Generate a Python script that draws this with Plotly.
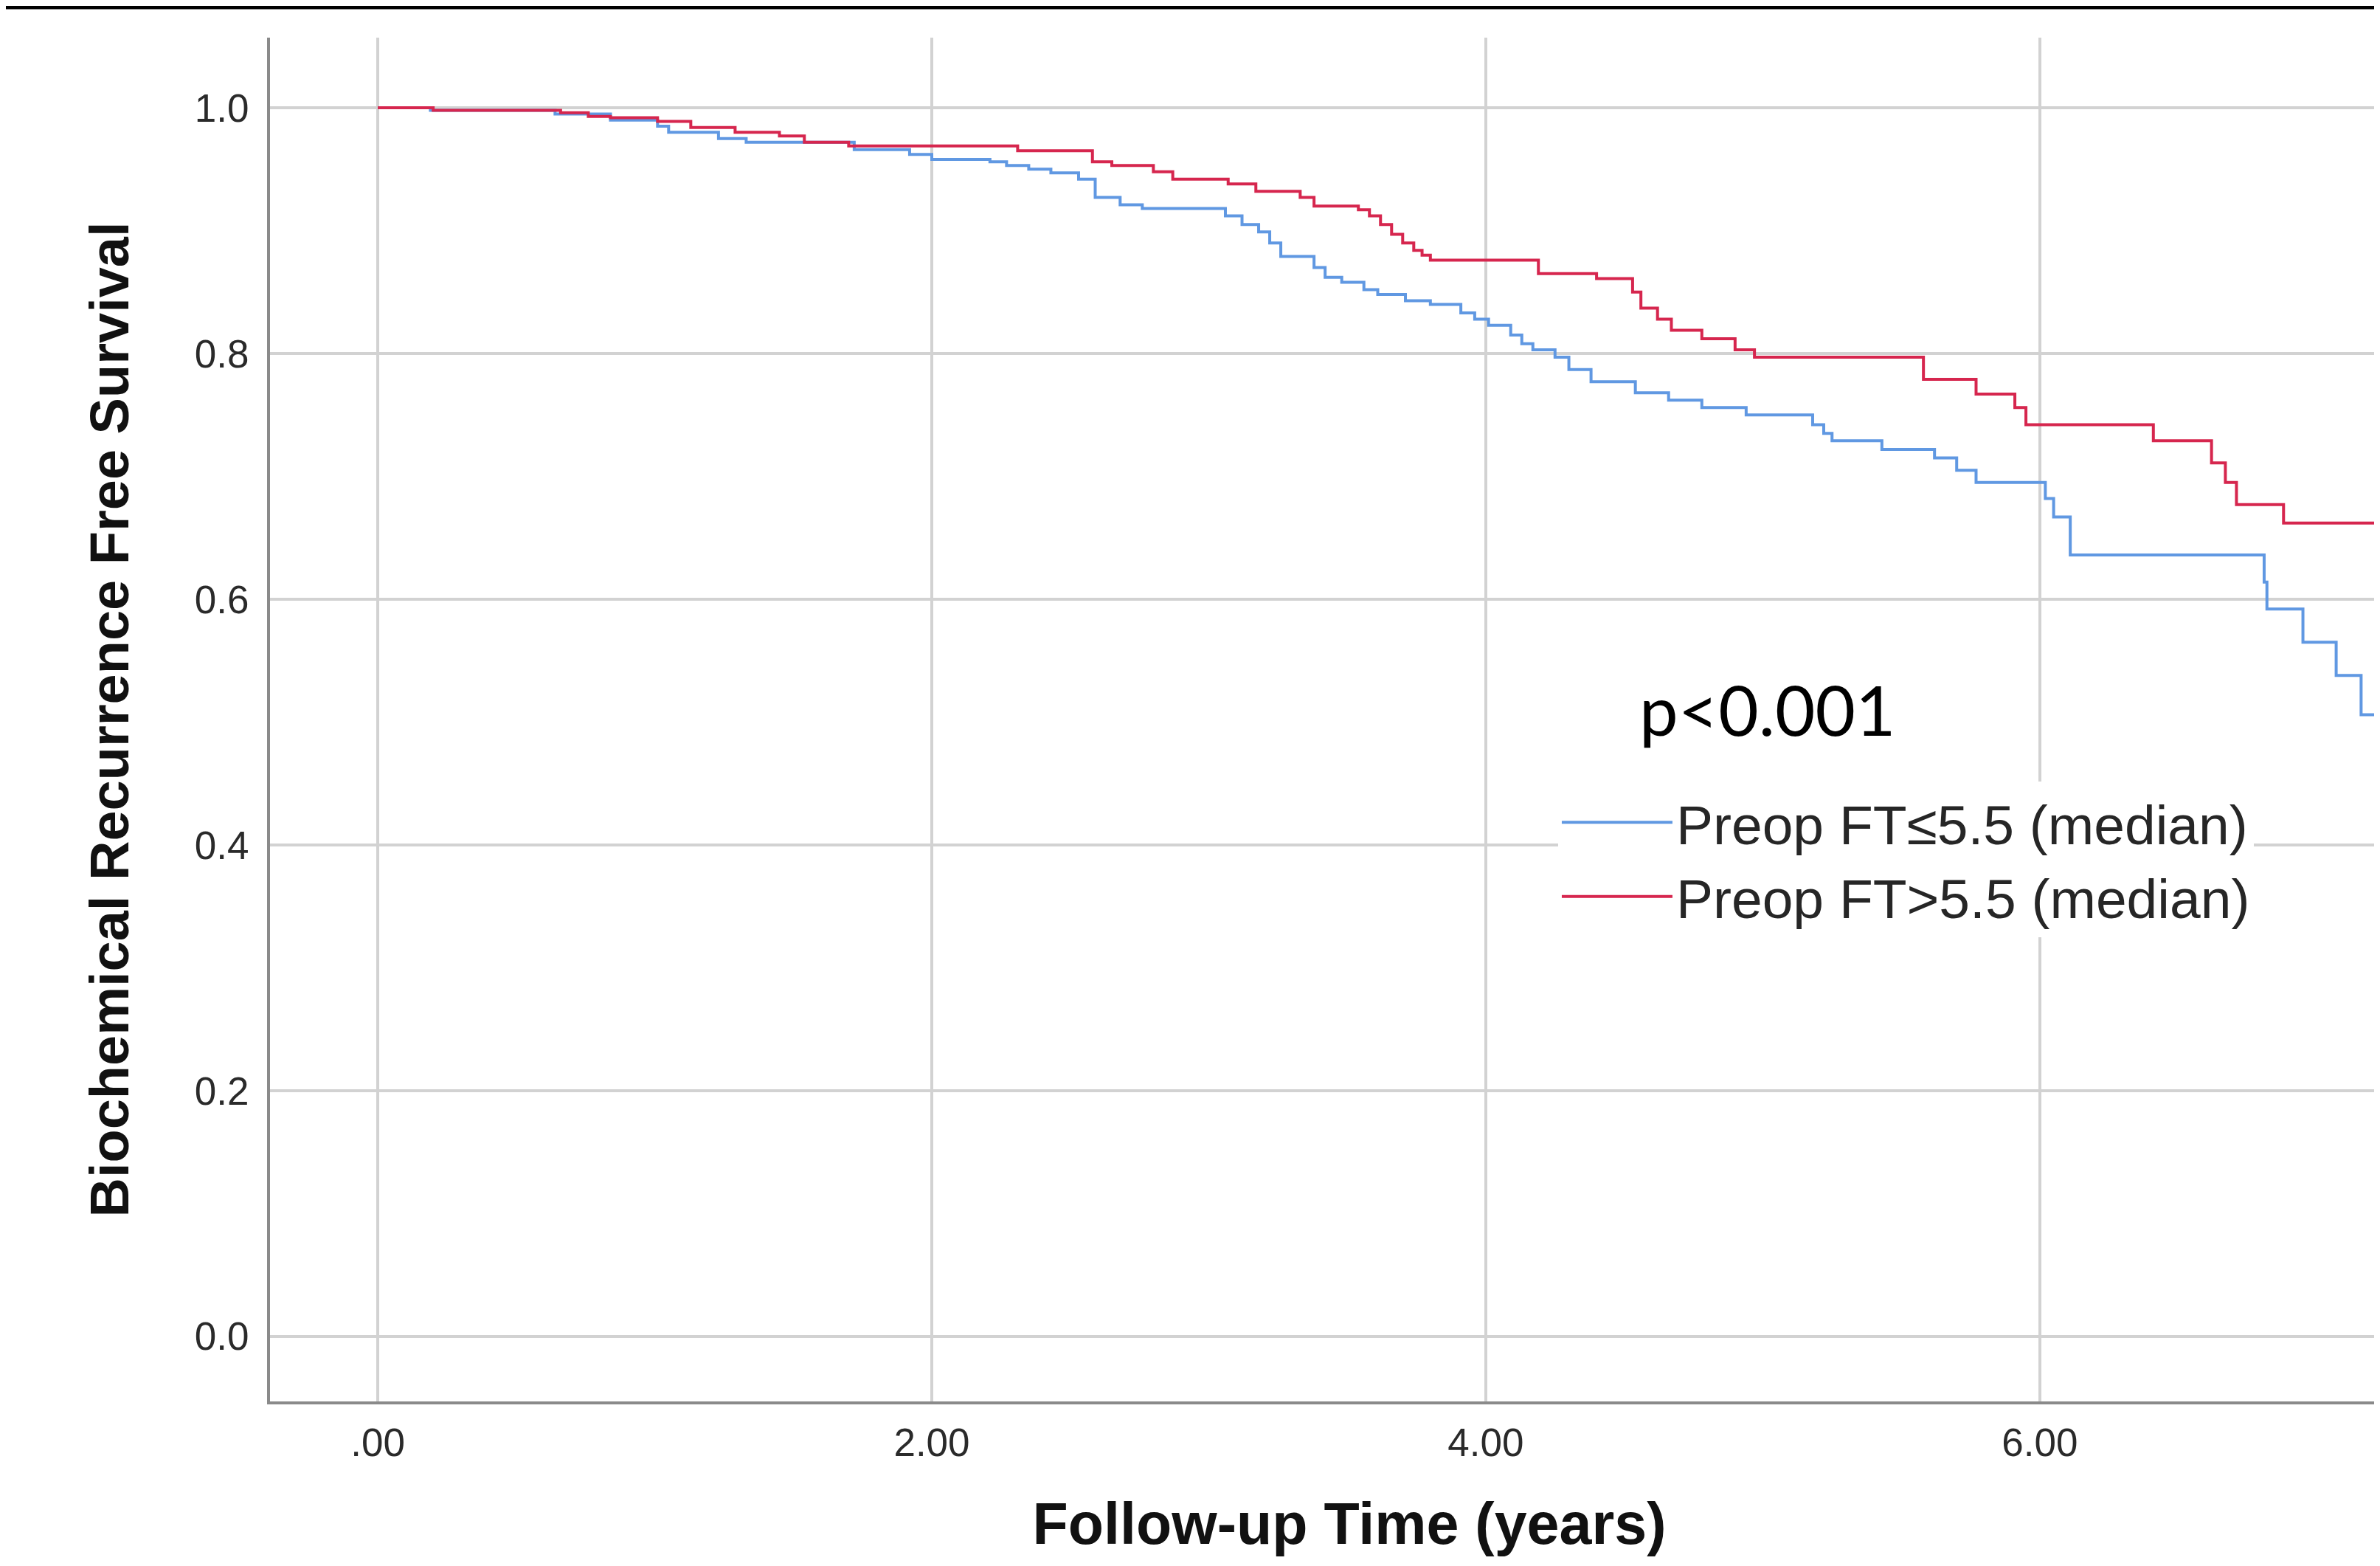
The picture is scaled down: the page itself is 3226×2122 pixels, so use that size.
import plotly.graph_objects as go

# ---- data ----
group_labels = ["Preop FT\u22645.5 (median)", "Preop FT>5.5 (median)"]

time_low = [0.00, 0.19, 0.64, 0.84, 1.01, 1.05, 1.23, 1.33, 1.72, 1.92, 2.00, 2.21, 2.27, 2.35, 2.43,
            2.53, 2.59, 2.68, 2.76, 3.06, 3.12, 3.18, 3.22, 3.26, 3.38, 3.42, 3.48, 3.56, 3.61, 3.71,
            3.80, 3.91, 3.96, 4.01, 4.09, 4.13, 4.17, 4.25, 4.30, 4.38, 4.54, 4.66, 4.78, 4.94, 5.18,
            5.22, 5.25, 5.43, 5.62, 5.70, 5.77, 6.02, 6.05, 6.11, 6.81, 6.82, 6.95, 7.07, 7.16, 7.45]
surv_low = [1.000, 0.998, 0.995, 0.990, 0.985, 0.980, 0.975, 0.972, 0.966, 0.962, 0.958, 0.956, 0.953,
            0.950, 0.947, 0.942, 0.927, 0.921, 0.918, 0.912, 0.905, 0.899, 0.890, 0.879, 0.870, 0.862,
            0.858, 0.852, 0.848, 0.843, 0.840, 0.833, 0.828, 0.823, 0.815, 0.808, 0.803, 0.797, 0.787,
            0.777, 0.768, 0.762, 0.756, 0.750, 0.742, 0.735, 0.729, 0.722, 0.715, 0.705, 0.695, 0.682,
            0.667, 0.636, 0.614, 0.592, 0.565, 0.538, 0.506, 0.506]

time_high = [0.00, 0.20, 0.66, 0.76, 0.84, 1.01, 1.13, 1.29, 1.45, 1.54, 1.70, 2.31, 2.58, 2.65, 2.80,
             2.87, 3.07, 3.17, 3.33, 3.38, 3.54, 3.58, 3.62, 3.66, 3.70, 3.74, 3.77, 3.80, 4.19, 4.40,
             4.53, 4.56, 4.62, 4.67, 4.78, 4.90, 4.97, 5.58, 5.77, 5.91, 5.95, 6.41, 6.62, 6.67, 6.71,
             6.88, 7.45]
surv_high = [1.000, 0.998, 0.996, 0.993, 0.992, 0.989, 0.984, 0.980, 0.977, 0.972, 0.969, 0.965, 0.956,
             0.953, 0.948, 0.942, 0.938, 0.932, 0.927, 0.920, 0.917, 0.912, 0.905, 0.897, 0.890, 0.884,
             0.880, 0.876, 0.865, 0.861, 0.850, 0.837, 0.828, 0.819, 0.812, 0.803, 0.797, 0.779, 0.767,
             0.756, 0.742, 0.729, 0.711, 0.695, 0.677, 0.662, 0.662]

x_tickvals = [0, 2, 4, 6]
x_ticktext = [".00", "2.00", "4.00", "6.00"]
y_tickvals = [0.0, 0.2, 0.4, 0.6, 0.8, 1.0]
y_ticktext = ["0.0", "0.2", "0.4", "0.6", "0.8", "1.0"]

p_text = "p<0.001"

# ---- figure ----
# The plot area runs past the right edge of the window, as in the cropped reference.
W, H = 3284, 2122
ML, MR, MT, MB = 358, 0, 43, 231
PW = W - ML - MR
PH = H - MT - MB

BLUE = "#6098e2"
RED = "#d6264e"
AX = "Liberation Sans, Arial, sans-serif"

fig = go.Figure()
fig.add_trace(go.Scatter(x=time_low, y=surv_low, mode="lines", line_shape="hv",
                         line=dict(color=BLUE, width=4), name=group_labels[0]))
fig.add_trace(go.Scatter(x=time_high, y=surv_high, mode="lines", line_shape="hv",
                         line=dict(color=RED, width=4), name=group_labels[1]))

fig.update_layout(
    width=W, height=H,
    margin=dict(l=ML, r=MR, t=MT, b=MB, pad=0),
    paper_bgcolor="white", plot_bgcolor="white",
    showlegend=True,
    legend=dict(
        x=0.5967, xanchor="left", y=0.4545, yanchor="top",
        bgcolor="white", borderwidth=0,
        font=dict(family=AX, size=75, color="#262626"),
        itemwidth=150, tracegroupgap=0,
    ),
    xaxis=dict(
        range=[-0.389, 7.404], tickvals=x_tickvals, ticktext=x_ticktext,
        showgrid=True, gridcolor="#d2d2d2", gridwidth=4, zeroline=False,
        showline=True, linecolor="#8a8a8a", linewidth=4,
        ticks="", ticklabelstandoff=6,
        tickfont=dict(family=AX, size=53, color="#2a2a2a"),
        title=dict(text="<b>Follow-up Time (years)</b>", standoff=55,
                   font=dict(family=AX, size=79, color="#111111")),
    ),
    yaxis=dict(
        range=[-0.0529, 1.0571], tickvals=y_tickvals, ticktext=y_ticktext,
        showgrid=True, gridcolor="#d2d2d2", gridwidth=4, zeroline=False,
        showline=True, linecolor="#8a8a8a", linewidth=4,
        ticks="", ticklabelstandoff=14,
        tickfont=dict(family=AX, size=53, color="#2a2a2a"),
        title=dict(text="<b>Biochemical Recurrence Free Survival</b>", standoff=66,
                   font=dict(family=AX, size=74, color="#111111")),
    ),
    annotations=[
        dict(x=5.015, y=0.511, xref="x", yref="y", text=p_text, showarrow=False,
             xanchor="center", yanchor="middle",
             font=dict(family="Lato, Carlito, sans-serif", size=94, color="#000000")),
    ],
    shapes=[
        dict(type="line", xref="paper", yref="paper",
             x0=-ML / PW, x1=1.0,
             y0=1 + (MT - 2) / PH, y1=1 + (MT - 2) / PH,
             line=dict(color="#000000", width=5)),
    ],
)

fig.write_html("out.html")
